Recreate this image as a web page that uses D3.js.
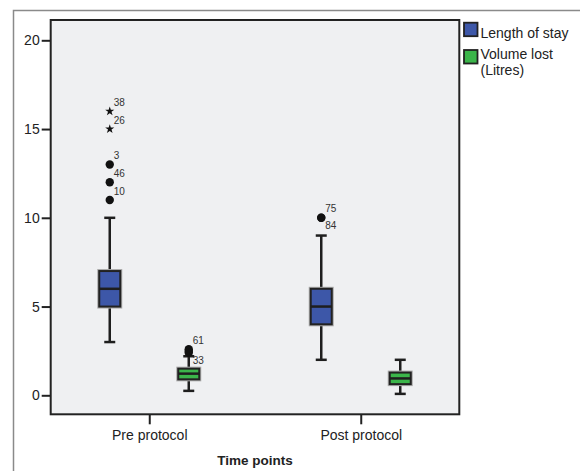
<!DOCTYPE html>
<html>
<head>
<meta charset="utf-8">
<script src="https://cdn.jsdelivr.net/npm/d3@7"></script>
<style>
  html, body { margin: 0; padding: 0; background: #fff; }
  svg { display: block; font-family: "Liberation Sans", Arial, sans-serif; }
</style>
</head>
<body>
<div id="chart"></div>
<script>
// categories on the x axis and the two series
const categories = ['Pre protocol', 'Post protocol'];
const seriesNames = ['Length of stay', 'Volume lost (Litres)'];
const seriesLegend = [['Length of stay'], ['Volume lost', '(Litres)']];
const seriesColors = ['#3d57a8', '#3bb54a'];

// box stats per category: [lower whisker, Q1, median, Q3, upper whisker]
const lengthOfStay = [[3, 5, 6, 7, 10], [2, 4, 5, 6, 9]];
const volumeLost = [[0.25, 0.9, 1.22, 1.5, 2.2], [0.08, 0.63, 0.95, 1.28, 2.0]];

// outliers: category, series index, value, case label, extreme (star)
const outlierCategory = ['Pre protocol', 'Pre protocol', 'Pre protocol', 'Pre protocol', 'Pre protocol',
  'Post protocol', 'Post protocol', 'Pre protocol', 'Pre protocol', 'Pre protocol'];
const outlierSeries = [0, 0, 0, 0, 0, 0, 0, 1, 1, 1];
const outlierValues = [16, 15, 13, 12, 11, 10, 10, 2.6, 2.5, 2.4];
const outlierIds = ['38', '26', '3', '46', '10', '75', '84', '61', '', '33'];
const outlierExtreme = [true, true, false, false, false, false, false, false, false, false];

const yTicks = [0, 5, 10, 15, 20];

const width = 580;
const height = 471;
const plot = { left: 50.7, right: 459.3, top: 20, bottom: 414.3 };
const fontFamily = '"Liberation Sans", Arial, sans-serif';

const svg = d3.select('#chart').append('svg')
  .attr('width', width)
  .attr('height', height);

// outer frame (cropped: only top and left edges visible)
svg.append('path')
  .attr('d', 'M13.5,471 V10.5 H580')
  .attr('fill', 'none')
  .attr('stroke', '#8a8a8a')
  .attr('stroke-width', 1.5);

// plot background
svg.append('rect')
  .attr('x', plot.left).attr('y', plot.top)
  .attr('width', plot.right - plot.left)
  .attr('height', plot.bottom - plot.top)
  .attr('fill', '#eff0f2');

const yScale = d3.scaleLinear().domain([0, 20]).range([395.3, 40.3]);
const xScale = d3.scalePoint().domain(categories).range([plot.left, plot.right]).padding(0.466);
const xInner = d3.scalePoint().domain(d3.range(seriesNames.length)).range([-39.5, 39.5]);

const boxWidth = 21;
const capHalf = 5.5;

// axes
const yAxis = d3.axisLeft(yScale).tickValues(yTicks).tickSize(9).tickPadding(2);
const xAxis = d3.axisBottom(xScale).tickSize(10).tickPadding(6);

const gy = svg.append('g')
  .attr('transform', 'translate(' + plot.left + ',0)')
  .call(yAxis);
const gx = svg.append('g')
  .attr('transform', 'translate(0,' + plot.bottom + ')')
  .call(xAxis);

[gx, gy].forEach(function(g) {
  g.attr('font-family', fontFamily);
  g.select('.domain').remove();
  g.selectAll('.tick line').attr('stroke', '#222').attr('stroke-width', 2);
  g.selectAll('.tick text')
    .attr('fill', '#222')
    .style('font-size', '14px')
    .style('font-family', fontFamily);
});

// boxes
const boxData = [];
categories.forEach(function(cat, ci) {
  [lengthOfStay, volumeLost].forEach(function(stats, si) {
    boxData.push({ cat: cat, series: si, s: stats[ci] });
  });
});

const boxes = svg.append('g').selectAll('g')
  .data(boxData)
  .join('g')
  .attr('transform', d => 'translate(' + (xScale(d.cat) + xInner(d.series)) + ',0)');

// whiskers
boxes.append('line')
  .attr('x1', 0).attr('x2', 0)
  .attr('y1', d => yScale(d.s[0]))
  .attr('y2', d => yScale(d.s[4]))
  .attr('stroke', '#1e1e1e').attr('stroke-width', 2.5);
boxes.selectAll('.cap')
  .data(d => [d.s[0], d.s[4]])
  .join('line')
  .attr('class', 'cap')
  .attr('x1', -capHalf).attr('x2', capHalf)
  .attr('y1', v => yScale(v)).attr('y2', v => yScale(v))
  .attr('stroke', '#1e1e1e').attr('stroke-width', 2.5);

// box halo + body
boxes.append('rect')
  .attr('x', -boxWidth / 2).attr('width', boxWidth)
  .attr('y', d => yScale(d.s[3]))
  .attr('height', d => yScale(d.s[1]) - yScale(d.s[3]))
  .attr('fill', 'none')
  .attr('stroke', '#a8a8a8').attr('stroke-width', 4);
boxes.append('rect')
  .attr('x', -boxWidth / 2).attr('width', boxWidth)
  .attr('y', d => yScale(d.s[3]))
  .attr('height', d => yScale(d.s[1]) - yScale(d.s[3]))
  .attr('fill', d => seriesColors[d.series])
  .attr('stroke', '#222').attr('stroke-width', 2);
boxes.append('line')
  .attr('x1', -boxWidth / 2).attr('x2', boxWidth / 2)
  .attr('y1', d => yScale(d.s[2])).attr('y2', d => yScale(d.s[2]))
  .attr('stroke', '#1e1e1e').attr('stroke-width', 2.5);

// outliers
const outliers = outlierValues.map(function(v, i) {
  return {
    x: xScale(outlierCategory[i]) + xInner(outlierSeries[i]),
    y: yScale(v),
    id: outlierIds[i],
    extreme: outlierExtreme[i]
  };
});

// case labels: above-right, pushed below when they would hit the previous label
let prevLabel = null;
outliers.forEach(function(o) {
  if (!o.id) return;
  let ly = o.y - 9;
  if (prevLabel && Math.abs(prevLabel.x - o.x) < 1 && Math.abs(prevLabel.y - ly) < 9) {
    ly = o.y + 8;
  }
  prevLabel = { x: o.x, y: ly };
  svg.append('text')
    .attr('x', o.x + 4)
    .attr('y', ly)
    .attr('dy', '0.35em')
    .attr('fill', '#333')
    .style('font-size', '10px')
    .text(o.id);
});

svg.append('g').selectAll('path')
  .data(outliers)
  .join('path')
  .attr('transform', d => 'translate(' + d.x + ',' + d.y + ')')
  .attr('d', d => d.extreme
    ? d3.symbol().type(d3.symbolStar).size(26)()
    : d3.symbol().type(d3.symbolCircle).size(55)())
  .attr('fill', '#111');

// plot frame
svg.append('rect')
  .attr('x', plot.left).attr('y', plot.top)
  .attr('width', plot.right - plot.left)
  .attr('height', plot.bottom - plot.top)
  .attr('fill', 'none')
  .attr('stroke', '#222')
  .attr('stroke-width', 2);

// x axis title
svg.append('text')
  .attr('x', (plot.left + plot.right) / 2)
  .attr('y', 465)
  .attr('text-anchor', 'middle')
  .attr('fill', '#222')
  .style('font-size', '13.5px')
  .style('font-weight', 'bold')
  .text('Time points');

// legend
const legendTop = [22.7, 50];
const legend = svg.append('g').selectAll('g')
  .data(seriesNames)
  .join('g')
  .attr('transform', (d, i) => 'translate(464,' + legendTop[i] + ')');

legend.append('rect')
  .attr('x', 0).attr('y', 0)
  .attr('width', 13.5).attr('height', 13.5)
  .attr('fill', (d, i) => seriesColors[i])
  .attr('stroke', '#222').attr('stroke-width', 1.8);

legend.each(function(d, i) {
  d3.select(this).selectAll('text')
    .data(seriesLegend[i])
    .join('text')
    .attr('x', 16.5)
    .attr('y', (t, j) => 10 + j * 16 - (seriesLegend[i].length > 1 ? 6 : 0))
    .attr('dy', '0.35em')
    .attr('fill', '#222')
    .style('font-size', '14px')
    .text(t => t);
});
</script>
</body>
</html>
